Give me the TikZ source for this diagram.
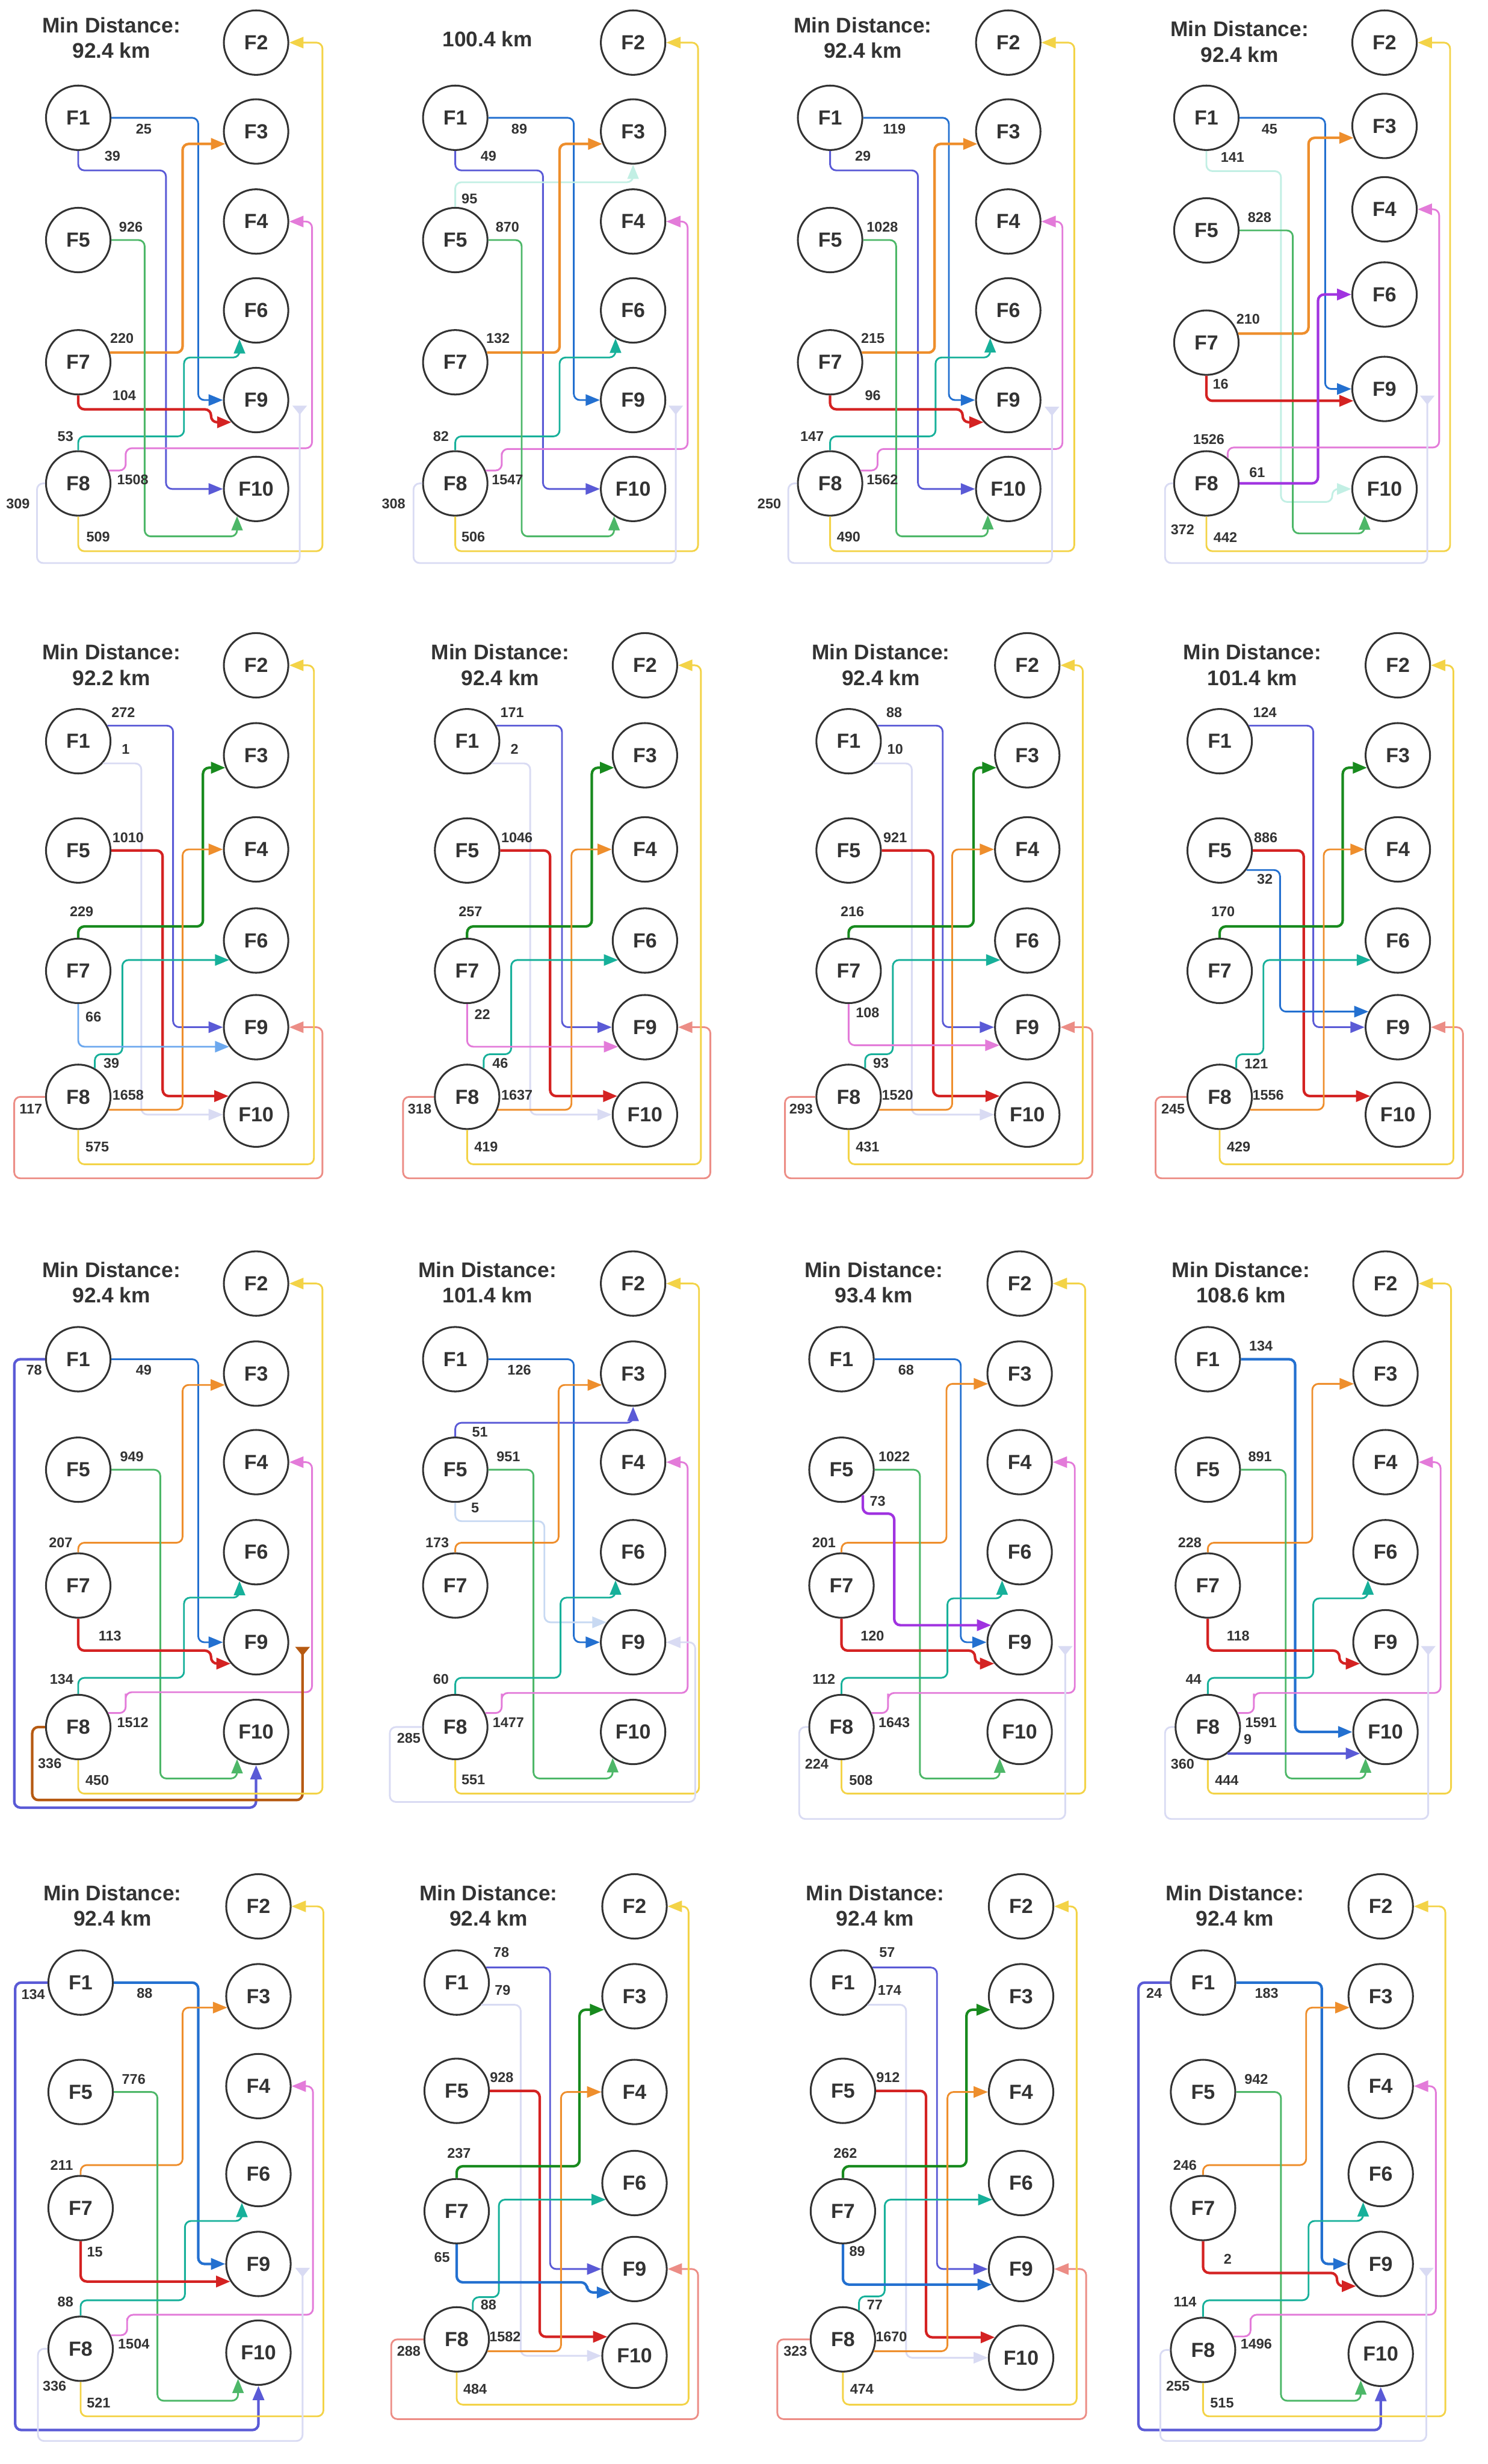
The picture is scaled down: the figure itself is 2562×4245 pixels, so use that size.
\documentclass[tikz,border=0pt]{standalone}
\usepackage{fontspec}
\setmainfont{Liberation Sans}
\usetikzlibrary{arrows.meta}
\definecolor{txt}{HTML}{333333}
\definecolor{cblue}{HTML}{2370D0}
\definecolor{cind}{HTML}{5A5AD6}
\definecolor{cora}{HTML}{EE8E2C}
\definecolor{cgrn}{HTML}{4DB768}
\definecolor{ctea}{HTML}{17B09A}
\definecolor{cred}{HTML}{D42222}
\definecolor{cpnk}{HTML}{E37BD9}
\definecolor{cyel}{HTML}{F3D347}
\definecolor{clav}{HTML}{D9DBF3}
\definecolor{ccya}{HTML}{C2EFE4}
\definecolor{cdgr}{HTML}{188A1E}
\definecolor{csal}{HTML}{EC8D86}
\definecolor{clbl}{HTML}{6CA8EE}
\definecolor{cvio}{HTML}{A033E0}
\definecolor{cbrn}{HTML}{B65A12}
\definecolor{cstl}{HTML}{C8D9F2}
\newcommand\facs[5]{%
  \foreach \nm/\yy in {#4}{\node[fac] (#1F\nm) at (#2,\yy) {F\nm};}%
  \foreach \nm/\yy in {#5}{\node[fac] (#1F\nm) at (#3,\yy) {F\nm};}%
}
\newcommand\lbls[2]{\foreach \qa/\qb/\qc [count=\qi] in {#2}{\node[lbl] (#1n\qi) at (\qa,\qb) {\qc};}}
\tikzset{
  fac/.style={circle, draw=txt, fill=white, line width=0.9pt, minimum size=1.11cm, inner sep=0pt,
    font=\fontsize{10}{12}\selectfont\bfseries, text=txt},
  ttl/.style={font=\fontsize{10.4}{12.5}\selectfont\bfseries, text=txt, align=center, inner sep=0pt},
  lbl/.style={font=\fontsize{6.9}{8}\selectfont\bfseries, text=txt, inner sep=0pt},
  cn/.style={line width=0.85pt, rounded corners=3pt, -{Triangle[length=7pt,width=5.5pt]}},
  thk/.style={line width=1.25pt},
  fe/.style={-{Triangle[reversed,length=4.5pt,width=7pt]}},
}
\begin{document}
\begin{tikzpicture}[x=0.01cm,y=-0.01cm]
\useasboundingbox (0,0) rectangle (2562,4245);
%================ ROW 1 left (A,B)
\begin{scope}[shift={(0,0)},x=0.00816cm,y=-0.00638cm]
\facs{A}{165}{540}{1/318,5/648,7/978,8/1305}{2/115,3/355,4/598,6/838,9/1080,10/1320}
\node[ttl] (At) at (235,102) {Min Distance:\\92.4 km};
\draw[cn,cblue] (AF1.east) -| (418,700) |- (AF9.west);
\draw[cn,cind] (AF1.south) |- (350,460) |- (AF10.west);
\draw[cn,thk,cora] (AF7.17) -| (385,600) |- (AF3.202);
\draw[cn,ctea] (AF8.north) |- (388,1178) |- (AF6.240 |- 0,965) -- (AF6.240);
\draw[cn,thk,cred] (AF7.south) |- (445,1105) |- (AF9.222);
\draw[cn,cpnk] (AF8.23) -| (265,1240) |- (658,1210) |- (AF4.east);
\draw[cn,cgrn] (AF5.east) -| (305,1000) |- (AF10.235 |- 0,1448) -- (AF10.235);
\draw[cn,cyel] (AF8.south) |- (680,1488) |- (AF2.east);
\coordinate (Ae) at (632,1095);
\draw[cn,fe,clav] (AF8.west) -| (78,1400) |- (632,1520) -- (Ae);
\lbls{A}{303/348/25, 237/422/39, 276/613/926, 257/913/220, 262/1068/104, 138/1178/53, 280/1295/1508, 38/1360/309, 207/1450/509}
%
\facs{B}{960}{1335}{1/318,5/648,7/978,8/1305}{2/115,3/355,4/598,6/838,9/1080,10/1320}
\node[ttl] (Bt) at (1028,105) {100.4 km};
\draw[cn,cblue] (BF1.east) -| (1210,700) |- (BF9.west);
\draw[cn,cind] (BF1.south) |- (1145,460) |- (BF10.west);
\draw[cn,ccya] (BF5.north) |- (BF3.south |- 0,492) -- (BF3.south);
\draw[cn,thk,cora] (BF7.17) -| (1180,600) |- (BF3.202);
\draw[cn,ctea] (BF8.north) |- (1180,1178) |- (BF6.238 |- 0,965) -- (BF6.238);
\draw[cn,cpnk] (BF8.23) -| (1058,1240) |- (1450,1212) |- (BF4.east);
\draw[cn,cgrn] (BF5.east) -| (1100,1000) |- (BF10.235 |- 0,1448) -- (BF10.235);
\draw[cn,cyel] (BF8.south) |- (1472,1488) |- (BF2.east);
\coordinate (Be) at (1425,1095);
\draw[cn,fe,clav] (BF8.west) -| (872,1400) |- (1425,1520) -- (Be);
\lbls{B}{1095/348/89, 1030/422/49, 990/537/95, 1070/613/870, 1050/913/132, 930/1178/82, 1070/1295/1547, 830/1360/308, 998/1450/506}
\end{scope}
%================ ROW 1 right (C,D)
\begin{scope}[shift={(1280,0)},x=0.00818cm,y=-0.00638cm]
\facs{C}{183}{558}{1/318,5/648,7/978,8/1305}{2/115,3/355,4/598,6/838,9/1080,10/1320}
\node[ttl] (Ct) at (252,102) {Min Distance:\\92.4 km};
\draw[cn,cblue] (CF1.east) -| (433,700) |- (CF9.west);
\draw[cn,cind] (CF1.south) |- (368,460) |- (CF10.west);
\draw[cn,thk,cora] (CF7.17) -| (403,600) |- (CF3.202);
\draw[cn,ctea] (CF8.north) |- (405,1178) |- (CF6.237 |- 0,965) -- (CF6.237);
\draw[cn,thk,cred] (CF7.south) |- (462,1105) |- (CF9.222);
\draw[cn,cpnk] (CF8.23) -| (283,1240) |- (672,1212) |- (CF4.east);
\draw[cn,cgrn] (CF5.east) -| (322,1000) |- (CF10.232 |- 0,1448) -- (CF10.232);
\draw[cn,cyel] (CF8.south) |- (697,1488) |- (CF2.east);
\coordinate (Ce) at (650,1098);
\draw[cn,fe,clav] (CF8.west) -| (95,1400) |- (650,1520) -- (Ce);
\lbls{C}{318/348/119, 252/422/29, 293/613/1028, 273/913/215, 273/1068/96, 145/1178/147, 293/1295/1562, 55/1360/250, 222/1450/490}
%
\facs{D}{975}{1350}{1/318,5/622,7/925,8/1305}{2/115,3/340,4/565,6/795,9/1050,10/1320}
\node[ttl] (Dt) at (1045,113) {Min Distance:\\92.4 km};
\draw[cn,cblue] (DF1.east) -| (1225,700) |- (DF9.west);
\draw[cn,ccya] (DF1.south) |- (1132,462) |- (1240,1355) |- (DF10.west);
\draw[cn,thk,cora] (DF7.16) -| (1190,600) |- (DF3.201);
\draw[cn,cgrn] (DF5.east) -| (1157,1000) |- (DF10.233 |- 0,1440) -- (DF10.233);
\draw[cn,thk,cred] (DF7.south) |- (DF9.201);
\draw[cn,thk,cvio] (DF8.east) -| (1210,1000) |- (DF6.west);
\draw[cn,cpnk] (DF8.50) |- (1465,1208) |- (DF4.east);
\draw[cn,cyel] (DF8.south) |- (1488,1488) |- (DF2.east);
\coordinate (De) at (1440,1068);
\draw[cn,fe,clav] (DF8.west) -| (888,1400) |- (1440,1520) -- (De);
\lbls{D}{1108/348/45, 1030/425/141, 1087/587/828, 1063/862/210, 1005/1037/16, 980/1187/1526, 1082/1275/61, 925/1430/372, 1015/1450/442}
\end{scope}
%================ ROW 2 left (E,F)
\begin{scope}[shift={(0,1060)},x=0.00816cm,y=-0.00638cm]
\facs{E}{165}{540}{1/340,5/635,7/960,8/1300}{2/135,3/378,4/632,6/878,9/1112,10/1348}
\node[ttl] (Et) at (235,134) {Min Distance:\\92.2 km};
\draw[cn,cind] (EF1.28) -| (365,700) |- (EF9.west);
\draw[cn,clav] (EF1.-42) -| (298,800) |- (EF10.west);
\draw[cn,thk,cred] (EF5.east) -| (343,900) |- (EF10.146);
\draw[cn,thk,cdgr] (EF7.north) |- (428,840) |- (EF3.202);
\draw[cn,cora] (EF8.-23) -| (385,1000) |- (EF4.west);
\draw[cn,ctea] (EF8.60) |- (258,1185) |- (EF6.216);
\draw[cn,clbl] (EF7.south) |- (EF9.216);
\draw[cn,csal] (EF8.west) -| (30,1400) |- (680,1520) |- (EF9.east);
\draw[cn,cyel] (EF8.south) |- (662,1482) |- (EF2.east);
\lbls{E}{260/262/272, 265/362/1, 270/600/1010, 172/800/229, 197/1085/66, 235/1210/39, 270/1295/1658, 65/1332/117, 205/1435/575}
%
\facs{F}{985}{1360}{1/340,5/635,7/960,8/1300}{2/135,3/378,4/632,6/878,9/1112,10/1348}
\node[ttl] (Ft) at (1055,134) {Min Distance:\\92.4 km};
\draw[cn,cind] (FF1.28) -| (1185,700) |- (FF9.west);
\draw[cn,clav] (FF1.-42) -| (1118,800) |- (FF10.west);
\draw[cn,thk,cred] (FF5.east) -| (1160,900) |- (FF10.146);
\draw[cn,thk,cdgr] (FF7.north) |- (1248,840) |- (FF3.202);
\draw[cn,cora] (FF8.-23) -| (1205,1000) |- (FF4.west);
\draw[cn,ctea] (FF8.60) |- (1078,1185) |- (FF6.216);
\draw[cn,cpnk] (FF7.south) |- (FF9.216);
\draw[cn,csal] (FF8.west) -| (850,1400) |- (1498,1520) |- (FF9.east);
\draw[cn,cyel] (FF8.south) |- (1478,1482) |- (FF2.east);
\lbls{F}{1080/262/171, 1085/362/2, 1090/600/1046, 992/800/257, 1017/1078/22, 1055/1210/46, 1090/1295/1637, 885/1332/318, 1025/1435/419}
\end{scope}
%================ ROW 2 right (G,H)
\begin{scope}[shift={(1280,1060)},x=0.00818cm,y=-0.00638cm]
\facs{G}{222}{598}{1/340,5/635,7/960,8/1300}{2/135,3/378,4/632,6/878,9/1112,10/1348}
\node[ttl] (Gt) at (290,134) {Min Distance:\\92.4 km};
\draw[cn,cind] (GF1.28) -| (420,700) |- (GF9.west);
\draw[cn,clav] (GF1.-42) -| (355,800) |- (GF10.west);
\draw[cn,thk,cred] (GF5.east) -| (400,900) |- (GF10.146);
\draw[cn,thk,cdgr] (GF7.north) |- (485,840) |- (GF3.202);
\draw[cn,cora] (GF8.-23) -| (440,1000) |- (GF4.west);
\draw[cn,ctea] (GF8.60) |- (315,1185) |- (GF6.216);
\draw[cn,cpnk] (GF7.south) |- (GF9.213);
\draw[cn,csal] (GF8.west) -| (88,1400) |- (735,1520) |- (GF9.east);
\draw[cn,cyel] (GF8.south) |- (715,1482) |- (GF2.east);
\lbls{G}{318/262/88, 320/362/10, 320/600/921, 230/800/216, 262/1073/108, 290/1210/93, 325/1295/1520, 122/1332/293, 262/1435/431}
%
\facs{H}{1003}{1378}{1/340,5/635,7/960,8/1300}{2/135,3/378,4/632,6/878,9/1112,10/1348}
\node[ttl] (Ht) at (1072,134) {Min Distance:\\101.4 km};
\draw[cn,cind] (HF1.28) -| (1200,700) |- (HF9.west);
\draw[cn,thk,cred] (HF5.east) -| (1180,900) |- (HF10.146);
\draw[cn,cblue] (HF5.-36) -| (1130,900) |- (HF9.152);
\draw[cn,thk,cdgr] (HF7.north) |- (1262,840) |- (HF3.202);
\draw[cn,cora] (HF8.-23) -| (1222,1000) |- (HF4.west);
\draw[cn,ctea] (HF8.60) |- (1095,1185) |- (HF6.216);
\draw[cn,csal] (HF8.west) -| (868,1400) |- (1515,1520) |- (HF9.east);
\draw[cn,cyel] (HF8.south) |- (1495,1482) |- (HF2.east);
\lbls{H}{1098/262/124, 1100/600/886, 1098/712/32, 1010/800/170, 1080/1210/121, 1105/1295/1556, 905/1332/245, 1043/1435/429}
\end{scope}
%================ ROW 3 left (I,J)
\begin{scope}[shift={(0,2120)},x=0.00816cm,y=-0.00651cm]
\facs{I}{165}{540}{1/340,5/632,7/938,8/1312}{2/140,3/378,4/612,6/850,9/1088,10/1325}
\node[ttl] (It) at (235,137) {Min Distance:\\92.4 km};
\draw[cn,cblue] (IF1.east) -| (418,700) |- (IF9.west);
\draw[cn,thk,cind] (IF1.west) -| (30,1000) |- (IF10.south |- 0,1525) -- (IF10.south);
\draw[cn,cora] (IF7.north) |- (385,825) |- (IF3.200);
\draw[cn,cgrn] (IF5.east) -| (338,1000) |- (IF10.235 |- 0,1448) -- (IF10.235);
\draw[cn,ctea] (IF8.north) |- (388,1182) |- (IF6.240 |- 0,970) -- (IF6.240);
\draw[cn,thk,cred] (IF7.south) |- (445,1110) |- (IF9.220);
\draw[cn,cpnk] (IF8.25) -| (265,1240) |- (658,1220) |- (IF4.east);
\coordinate (Ie) at (638,1100);
\draw[cn,thk,fe,cbrn] (IF8.west) -| (68,1400) |- (638,1505) -- (Ie);
\draw[cn,cyel] (IF8.south) |- (680,1488) |- (IF2.east);
\lbls{I}{303/368/49, 72/368/78, 278/598/949, 128/825/207, 232/1072/113, 130/1185/134, 280/1300/1512, 105/1408/336, 205/1452/450}
%
\facs{J}{960}{1335}{1/340,5/632,7/938,8/1312}{2/140,3/378,4/612,6/850,9/1088,10/1325}
\node[ttl] (Jt) at (1028,137) {Min Distance:\\101.4 km};
\draw[cn,cblue] (JF1.east) -| (1210,700) |- (JF9.west);
\draw[cn,cind] (JF5.north) |- (JF3.south |- 0,508) -- (JF3.south);
\draw[cn,cstl] (JF5.south) |- (1148,768) |- (JF9.143);
\draw[cn,cora] (JF7.north) |- (1178,825) |- (JF3.200);
\draw[cn,cgrn] (JF5.east) -| (1125,1000) |- (JF10.232 |- 0,1448) -- (JF10.232);
\draw[cn,ctea] (JF8.north) |- (1182,1182) |- (JF6.238 |- 0,970) -- (JF6.238);
\draw[cn,cpnk] (JF8.25) -| (1058,1240) |- (1450,1222) |- (JF4.east);
\draw[cn,cyel] (JF8.south) |- (1474,1488) |- (JF2.east);
\draw[cn,clav] (JF8.west) -| (822,1400) |- (1466,1510) |- (JF9.east);
\lbls{J}{1095/368/126, 1012/532/51, 1072/598/951, 1002/732/5, 922/825/173, 930/1185/60, 1072/1300/1477, 862/1342/285, 998/1452/551}
\end{scope}
%================ ROW 3 right (K,L)
\begin{scope}[shift={(1280,2120)},x=0.00818cm,y=-0.00651cm]
\facs{K}{207}{582}{1/340,5/632,7/938,8/1312}{2/140,3/378,4/612,6/850,9/1088,10/1325}
\node[ttl] (Kt) at (275,137) {Min Distance:\\93.4 km};
\draw[cn,cblue] (KF1.east) -| (458,700) |- (KF9.west);
\draw[cn,cora] (KF7.north) |- (428,825) |- (KF3.198);
\draw[cn,cgrn] (KF5.east) -| (372,1000) |- (KF10.233 |- 0,1448) -- (KF10.233);
\draw[cn,thk,cvio] (KF5.-50) |- (318,748) |- (KF9.149);
\draw[cn,thk,cred] (KF7.south) |- (488,1110) |- (KF9.220);
\draw[cn,ctea] (KF8.north) |- (430,1182) |- (KF6.238 |- 0,972) -- (KF6.238);
\draw[cn,cpnk] (KF8.25) -| (305,1240) |- (698,1222) |- (KF4.east);
\draw[cn,cyel] (KF8.south) |- (720,1488) |- (KF2.east);
\coordinate (Ke) at (678,1098);
\draw[cn,fe,clav] (KF8.west) -| (118,1400) |- (678,1555) -- (Ke);
\lbls{K}{343/368/68, 318/598/1022, 283/715/73, 170/825/201, 272/1072/120, 170/1185/112, 318/1300/1643, 155/1410/224, 248/1452/508}
%
\facs{L}{978}{1352}{1/340,5/632,7/938,8/1312}{2/140,3/378,4/612,6/850,9/1088,10/1325}
\node[ttl] (Lt) at (1048,137) {Min Distance:\\108.6 km};
\draw[cn,thk,cblue] (LF1.east) -| (1162,700) |- (LF10.west);
\draw[cn,cora] (LF7.north) |- (1198,825) |- (LF3.198);
\draw[cn,cgrn] (LF5.east) -| (1142,1000) |- (LF10.233 |- 0,1448) -- (LF10.233);
\draw[cn,thk,cred] (LF7.south) |- (1255,1110) |- (LF9.220);
\draw[cn,ctea] (LF8.north) |- (1200,1182) |- (LF6.238 |- 0,972) -- (LF6.238);
\draw[cn,cpnk] (LF8.25) -| (1075,1240) |- (1468,1222) |- (LF4.east);
\draw[cn,thk,cind] (LF8.-53) -- (LF8.-53 -| LF10.220);
\draw[cn,cyel] (LF8.south) |- (1490,1488) |- (LF2.east);
\coordinate (Le) at (1442,1098);
\draw[cn,fe,clav] (LF8.west) -| (888,1400) |- (1442,1555) -- (Le);
\lbls{L}{1090/305/134, 1088/598/891, 940/825/228, 1042/1072/118, 948/1185/44, 1090/1300/1591, 1062/1345/9, 925/1410/360, 1018/1452/444}
\end{scope}
%================ ROW 4 left (M,N)
\begin{scope}[shift={(0,3190)},x=0.00816cm,y=-0.00673cm]
\facs{M}{170}{545}{1/335,5/615,7/912,8/1272}{2/140,3/370,4/600,6/825,9/1055,10/1282}
\node[ttl] (Mt) at (237,138) {Min Distance:\\92.4 km};
\draw[cn,thk,cblue] (MF1.east) -| (418,700) |- (MF9.west);
\draw[cn,thk,cind] (MF1.west) -| (32,1000) |- (MF10.south |- 0,1480) -- (MF10.south);
\draw[cn,cora] (MF7.north) |- (385,802) |- (MF3.200);
\draw[cn,cgrn] (MF5.east) -| (332,1000) |- (MF10.232 |- 0,1405) -- (MF10.232);
\draw[cn,ctea] (MF8.north) |- (390,1148) |- (MF6.240 |- 0,945) -- (MF6.240);
\draw[cn,thk,cred] (MF7.south) |- (MF9.212);
\draw[cn,cpnk] (MF8.24) -| (268,1210) |- (660,1185) |- (MF4.east);
\draw[cn,cyel] (MF8.south) |- (682,1445) |- (MF2.east);
\coordinate (Me) at (638,1065);
\draw[cn,fe,clav] (MF8.west) -| (80,1400) |- (638,1508) -- (Me);
\lbls{M}{305/362/88, 70/365/134, 282/582/776, 130/802/211, 200/1025/15, 138/1152/88, 282/1260/1504, 115/1368/336, 208/1410/521}
%
\facs{N}{963}{1338}{1/335,5/612,7/920,8/1248}{2/140,3/370,4/615,6/848,9/1068,10/1290}
\node[ttl] (Nt) at (1030,138) {Min Distance:\\92.4 km};
\draw[cn,cind] (NF1.27) -| (1160,700) |- (NF9.west);
\draw[cn,clav] (NF1.-42) -| (1098,800) |- (NF10.west);
\draw[cn,thk,cred] (NF5.east) -| (1138,900) |- (NF10.145);
\draw[cn,thk,cdgr] (NF7.north) |- (1222,805) |- (NF3.204);
\draw[cn,cora] (NF8.-21) -| (1183,1000) |- (NF4.west);
\draw[cn,ctea] (NF8.61) |- (1052,1140) |- (NF6.210);
\draw[cn,thk,cblue] (NF7.south) |- (1238,1102) |- (NF9.225);
\draw[cn,csal] (NF8.west) -| (825,1350) |- (1472,1452) |- (NF9.east);
\draw[cn,cyel] (NF8.south) |- (1452,1415) |- (NF2.east);
\lbls{N}{1057/258/78, 1060/355/79, 1058/578/928, 968/772/237, 932/1038/65, 1030/1160/88, 1065/1242/1582, 862/1278/288, 1002/1375/484}
\end{scope}
%================ ROW 4 right (O,P)
\begin{scope}[shift={(1280,3190)},x=0.00818cm,y=-0.00673cm]
\facs{O}{210}{585}{1/335,5/612,7/920,8/1248}{2/140,3/370,4/615,6/848,9/1068,10/1295}
\node[ttl] (Ot) at (278,138) {Min Distance:\\92.4 km};
\draw[cn,cind] (OF1.27) -| (408,700) |- (OF9.west);
\draw[cn,clav] (OF1.-42) -| (343,800) |- (OF10.west);
\draw[cn,thk,cred] (OF5.east) -| (385,900) |- (OF10.142);
\draw[cn,thk,cdgr] (OF7.north) |- (470,805) |- (OF3.204);
\draw[cn,cora] (OF8.-21) -| (430,1000) |- (OF4.west);
\draw[cn,ctea] (OF8.61) |- (298,1138) |- (OF6.210);
\draw[cn,thk,cblue] (OF7.south) |- (OF9.208);
\draw[cn,csal] (OF8.west) -| (72,1350) |- (722,1452) |- (OF9.east);
\draw[cn,cyel] (OF8.south) |- (702,1415) |- (OF2.east);
\lbls{O}{303/258/57, 308/355/174, 305/578/912, 215/772/262, 240/1022/89, 277/1160/77, 312/1242/1670, 110/1278/323, 250/1375/474}
%
\facs{P}{968}{1342}{1/335,5/615,7/912,8/1275}{2/140,3/370,4/600,6/825,9/1055,10/1285}
\node[ttl] (Pt) at (1035,138) {Min Distance:\\92.4 km};
\draw[cn,thk,cblue] (PF1.east) -| (1218,700) |- (PF9.west);
\draw[cn,thk,cind] (PF1.west) -| (832,1000) |- (PF10.south |- 0,1480) -- (PF10.south);
\draw[cn,cora] (PF7.north) |- (1185,802) |- (PF3.200);
\draw[cn,cgrn] (PF5.east) -| (1132,1000) |- (PF10.233 |- 0,1405) -- (PF10.233);
\draw[cn,ctea] (PF8.north) |- (1190,1148) |- (PF6.238 |- 0,945) -- (PF6.238);
\draw[cn,thk,cred] (PF7.south) |- (1250,1078) |- (PF9.222);
\draw[cn,cpnk] (PF8.24) -| (1068,1210) |- (1458,1185) |- (PF4.east);
\draw[cn,cyel] (PF8.south) |- (1478,1445) |- (PF2.east);
\coordinate (Pe) at (1438,1065);
\draw[cn,fe,clav] (PF8.west) -| (878,1400) |- (1438,1508) -- (Pe);
\lbls{P}{1102/362/183, 865/362/24, 1080/582/942, 930/802/246, 1020/1042/2, 930/1152/114, 1080/1260/1496, 915/1368/255, 1008/1410/515}
\end{scope}
\end{tikzpicture}
\end{document}
